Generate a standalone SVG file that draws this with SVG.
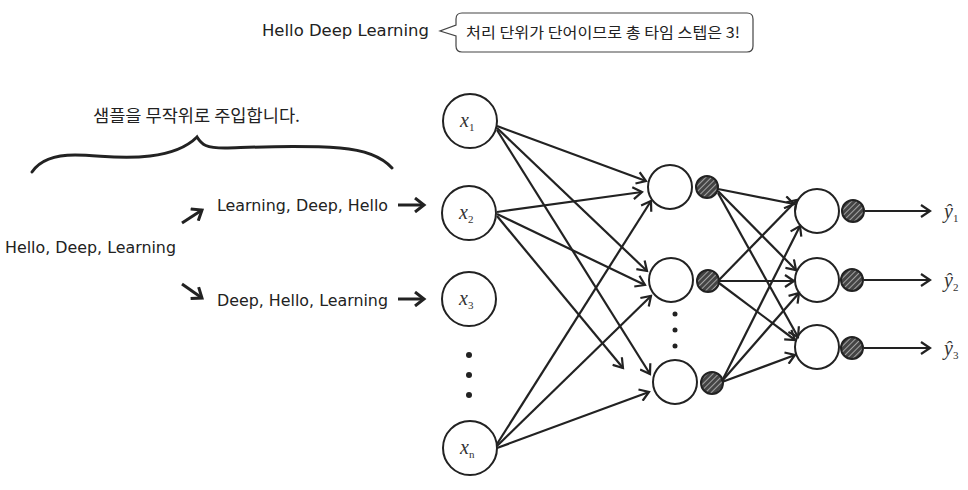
<svg xmlns="http://www.w3.org/2000/svg" width="968" height="490" viewBox="0 0 968 490">
<defs>
<style>
.t{font-family:"DejaVu Sans","Liberation Sans",sans-serif;font-size:15px;fill:#222}
.k{font-family:"Noto Sans CJK KR","Noto Sans",sans-serif;fill:#222}
.m{font-family:"Liberation Serif","DejaVu Serif",serif;font-style:italic;font-size:20px;fill:#333}
.sub{font-size:11px;font-style:normal}
.node{fill:#fff;stroke:#222;stroke-width:2}
.hat{fill:url(#hatch);stroke:#222;stroke-width:2}
.e{stroke:#222;stroke-width:2.2;fill:none;marker-end:url(#ah)}
.b{stroke:#222;stroke-width:3;fill:none;marker-end:url(#ahb)}
.dot{fill:#222}
</style>
<pattern id="hatch" width="4" height="4" patternUnits="userSpaceOnUse" patternTransform="rotate(45)">
<rect width="4" height="4" fill="#444"/>
<line x1="0" y1="0" x2="0" y2="4" stroke="#ccc" stroke-width="1.4"/>
</pattern>
<marker id="ah" markerWidth="14" markerHeight="14" refX="11" refY="7" orient="auto" markerUnits="userSpaceOnUse">
<path d="M2,1 L11,7 L2,13" fill="none" stroke="#222" stroke-width="2.2"/>
</marker>
<marker id="ahb" markerWidth="16" markerHeight="16" refX="12" refY="8" orient="auto" markerUnits="userSpaceOnUse">
<path d="M3,1 L12,8 L3,15" fill="none" stroke="#222" stroke-width="3"/>
</marker>
</defs>
<rect width="968" height="490" fill="#fff"/>

<g id="title">
<text class="t" x="262" y="36" font-size="16" textLength="167" lengthAdjust="spacingAndGlyphs">Hello Deep Learning</text>
</g>
<g id="callout">
<path d="M462,13 H747 Q753,13 753,19 V46 Q753,52 747,52 H462 Q456,52 456,46 V36 L440,31 L456,25 V19 Q456,13 462,13 Z" fill="#fff" stroke="#444" stroke-width="1.2"/>
<text class="k" x="466" y="38" font-size="15" textLength="274" lengthAdjust="spacingAndGlyphs">처리 단위가 단어이므로 총 타임 스텝은 3!</text>
</g>

<g id="brace-label">
<text class="k" x="93" y="122" font-size="17" textLength="207" lengthAdjust="spacingAndGlyphs">샘플을 무작위로 주입합니다.</text>
<path d="M32,172 C40,160 55,155 75,155 C100,155 120,160 150,156 C175,153 188,146 197,137 C202,145 206,148 225,148 C260,147 300,145 340,148 C365,150 382,157 392,168" fill="none" stroke="#222" stroke-width="3" stroke-linecap="round"/>
</g>

<g id="seq-orig"><text class="t" x="5" y="253" textLength="171" lengthAdjust="spacingAndGlyphs">Hello, Deep, Learning</text></g>
<g id="seq-a"><text class="t" x="217" y="211" textLength="171" lengthAdjust="spacingAndGlyphs">Learning, Deep, Hello</text></g>
<g id="seq-b"><text class="t" x="217" y="306" textLength="171" lengthAdjust="spacingAndGlyphs">Deep, Hello, Learning</text></g>

<g id="x1"><circle class="node" cx="470" cy="121" r="27"/><text class="m" x="460" y="127">x<tspan class="sub" dy="4">1</tspan></text></g>
<g id="x2"><circle class="node" cx="469" cy="213" r="27"/><text class="m" x="459" y="219">x<tspan class="sub" dy="4">2</tspan></text></g>
<g id="x3"><circle class="node" cx="469" cy="299" r="27"/><text class="m" x="459" y="305">x<tspan class="sub" dy="4">3</tspan></text></g>
<g id="xdots"><circle class="dot" cx="469" cy="355" r="3"/><circle class="dot" cx="469" cy="375" r="3"/><circle class="dot" cx="469" cy="395" r="3"/></g>
<g id="xn"><circle class="node" cx="470" cy="448" r="27"/><text class="m" x="460" y="454">x<tspan class="sub" dy="4" font-style="italic">n</tspan></text></g>

<g id="h1"><circle class="node" cx="670" cy="187" r="22"/><circle class="hat" cx="707" cy="187" r="11"/></g>
<g id="h2"><circle class="node" cx="671" cy="280" r="22"/><circle class="hat" cx="708" cy="281" r="11"/></g>
<g id="hdots"><circle class="dot" cx="675" cy="314" r="2.5"/><circle class="dot" cx="675" cy="330" r="2.5"/><circle class="dot" cx="675" cy="346" r="2.5"/></g>
<g id="h3"><circle class="node" cx="675" cy="382" r="22"/><circle class="hat" cx="712" cy="383" r="11"/></g>

<g id="o1"><circle class="node" cx="817" cy="211" r="22"/><circle class="hat" cx="853" cy="211" r="11"/></g>
<g id="o2"><circle class="node" cx="817" cy="280" r="22"/><circle class="hat" cx="852" cy="280" r="11"/></g>
<g id="o3"><circle class="node" cx="817" cy="347" r="22"/><circle class="hat" cx="852" cy="348" r="11"/></g>

<g id="y1"><text class="m" x="944" y="218">ŷ<tspan class="sub" dy="4">1</tspan></text></g>
<g id="y2"><text class="m" x="944" y="287">ŷ<tspan class="sub" dy="4">2</tspan></text></g>
<g id="y3"><text class="m" x="944" y="355">ŷ<tspan class="sub" dy="4">3</tspan></text></g>

<g id="connectors">
<path class="b" d="M182,223 L202,210"/>
<path class="b" d="M182,284 L202,298"/>
<path class="b" d="M398,205 L424,205"/>
<path class="b" d="M398,299 L424,299"/>

<path class="e" d="M497,126 L646,181"/>
<path class="e" d="M497,128 L647,271"/>
<path class="e" d="M497,130 L650,374"/>
<path class="e" d="M497,212 L642,192"/>
<path class="e" d="M497,214 L645,285"/>
<path class="e" d="M497,216 L623,368"/>
<path class="e" d="M497,444 L651,201"/>
<path class="e" d="M497,446 L651,296"/>
<path class="e" d="M497,448 L649,392"/>

<path class="e" d="M718,189 L794,204"/>
<path class="e" d="M718,191 L796,270"/>
<path class="e" d="M718,193 L798,337"/>
<path class="e" d="M719,280 L797,200"/>
<path class="e" d="M719,281 L794,281"/>
<path class="e" d="M719,283 L795,340"/>
<path class="e" d="M722,381 L800,226"/>
<path class="e" d="M722,381 L799,293"/>
<path class="e" d="M722,382 L795,355"/>

<path class="e" d="M865,211 L930,211"/>
<path class="e" d="M864,280 L930,280"/>
<path class="e" d="M864,348 L930,348"/>
</g>
</svg>
